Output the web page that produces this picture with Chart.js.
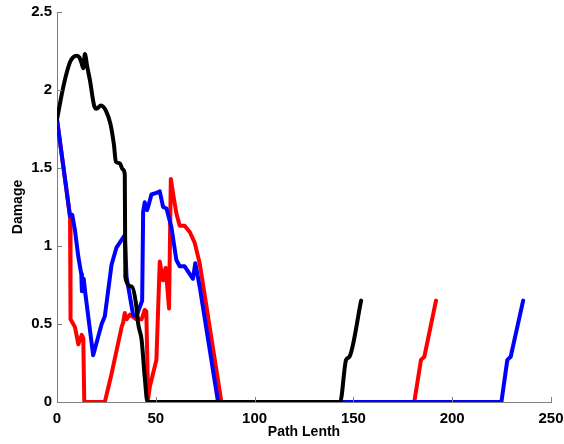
<!DOCTYPE html>
<html>
<head>
<meta charset="utf-8">
<script src="https://cdn.jsdelivr.net/npm/chart.js@4.4.1/dist/chart.umd.min.js"></script>
<style>
  html, body { margin: 0; padding: 0; background: #fff; }
  canvas { display: block; }
</style>
</head>
<body>
<canvas id="chart-area" width="564" height="444"></canvas>
<script>
	// values (path length vs damage)
	var blackX = [0, 1.9, 3.2, 4.9, 6.6, 8.2, 10, 11.3, 12.5, 13.3, 14.1, 15.3, 16.7, 18.8, 20, 22.2, 25, 27.1, 28.8, 29.8, 31.8, 33.3, 34.3, 34.6, 37.7, 40.2, 41.1, 42.8, 44.4, 45.8, 143.3, 146.3, 148, 153.9];
	var blackY = [1.81, 1.94, 2.02, 2.11, 2.18, 2.21, 2.22, 2.21, 2.17, 2.14, 2.23, 2.15, 2.06, 1.90, 1.88, 1.90, 1.86, 1.78, 1.65, 1.54, 1.53, 1.49, 1.46, 0.80, 0.74, 0.61, 0.50, 0.40, 0.16, 0, 0, 0.27, 0.29, 0.65];

	var blueX = [0, 6.6, 7.7, 9.1, 10.8, 12.3, 12.6, 13.5, 14.3, 18.3, 22.6, 24.2, 27.6, 30.1, 34.3, 35.2, 38.5, 40.2, 43.1, 43.6, 44.4, 45.6, 46.1, 47.8, 50.3, 52, 53.7, 55.4, 57.9, 60.4, 62.1, 64.6, 67.2, 68.8, 70, 72.2, 81.5, 224.9, 227.9, 229.6, 235.9];
	var blueY = [1.81, 1.19, 1.20, 1.10, 0.93, 0.82, 0.71, 0.79, 0.70, 0.30, 0.50, 0.55, 0.88, 0.99, 1.07, 0.80, 0.56, 0.55, 0.65, 1.22, 1.28, 1.23, 1.25, 1.33, 1.34, 1.35, 1.25, 1.24, 1.12, 0.91, 0.87, 0.87, 0.82, 0.79, 0.89, 0.74, 0, 0, 0.27, 0.29, 0.65];

	var redX = [0, 6.6, 6.7, 7.0, 9.1, 10.8, 12.5, 13.3, 13.8, 24.2, 27.6, 32.7, 33.5, 34.3, 35.2, 36.9, 40.2, 42.8, 44.4, 45.2, 46.1, 47, 50.3, 52, 53.7, 55, 56.7, 57.6, 58.7, 60.4, 62.1, 64.6, 67.2, 69.7, 72.2, 83.2, 180.8, 184.2, 185.9, 191.8];
	var redY = [1.81, 1.19, 1.10, 0.53, 0.48, 0.37, 0.43, 0.41, 0, 0, 0.18, 0.48, 0.51, 0.57, 0.53, 0.56, 0.53, 0.53, 0.59, 0.58, 0.02, 0.10, 0.27, 0.90, 0.78, 0.86, 0.60, 1.43, 1.34, 1.21, 1.13, 1.13, 1.09, 1.02, 0.89, 0, 0, 0.27, 0.29, 0.65];

	var xTicks = [0, 50, 100, 150, 200, 250];
	var yTicks = [0, 0.5, 1, 1.5, 2, 2.5];

	function points(xs, ys) {
		return xs.map(function(x, i) { return { x: x, y: ys[i] }; });
	}

	var FONT = "'Liberation Sans', Arial, sans-serif";

	// matlab style ticks pointing into the plot
	var innerTicks = {
		id: 'innerTicks',
		afterDatasetsDraw: function(chart) {
			var ctx = chart.ctx, a = chart.chartArea;
			var xs = chart.scales.x, ys = chart.scales.y;
			ctx.save();
			ctx.strokeStyle = '#808080';
			ctx.lineWidth = 1;
			ctx.beginPath();
			xTicks.forEach(function(v) {
				var px = Math.round(xs.getPixelForValue(v)) + 0.5;
				ctx.moveTo(px, a.bottom);
				ctx.lineTo(px, a.bottom - 5);
			});
			yTicks.forEach(function(v) {
				var py = Math.round(ys.getPixelForValue(v)) + 0.5;
				ctx.moveTo(a.left, py);
				ctx.lineTo(a.left + 5, py);
			});
			ctx.stroke();
			ctx.restore();
		}
	};

	var config = {
		type: 'line',
		data: {
			datasets: [{
				data: points(blackX, blackY),
				borderColor: '#000000',
				borderWidth: 4,
				cubicInterpolationMode: 'monotone'
			}, {
				data: points(blueX, blueY),
				borderColor: '#0000ff',
				borderWidth: 4
			}, {
				data: points(redX, redY),
				borderColor: '#ff0000',
				borderWidth: 4
			}]
		},
		options: {
			responsive: false,
			animation: false,
			events: [],
			elements: {
				point: { radius: 0 },
				line: { tension: 0, borderJoinStyle: 'round', borderCapStyle: 'round' }
			},
			layout: { padding: { top: 12, right: 13, bottom: 0, left: 0 } },
			plugins: {
				legend: { display: false },
				tooltip: { enabled: false }
			},
			scales: {
				x: {
					type: 'linear',
					min: 0,
					max: 250,
					grid: { display: false, drawTicks: false },
					border: { display: true, color: '#808080', width: 1 },
					ticks: {
						stepSize: 50,
						padding: 8,
						color: '#000',
						font: { family: FONT, size: 15, weight: 'bold' }
					},
					title: {
						display: true,
						text: 'Path Lenth',
						color: '#000',
						padding: { top: 0, bottom: 3 },
						font: { family: FONT, size: 14, weight: 'bold' }
					},
					afterFit: function(scale) {
						scale.height = 42;
						scale.paddingRight = 0;
						scale.paddingLeft = 0;
					}
				},
				y: {
					min: 0,
					max: 2.5,
					grid: { display: false, drawTicks: false },
					border: { display: true, color: '#808080', width: 1 },
					ticks: {
						stepSize: 0.5,
						padding: 5,
						color: '#000',
						font: { family: FONT, size: 15, weight: 'bold' },
						callback: function(v) { return String(v); }
					},
					title: {
						display: true,
						text: 'Damage',
						color: '#000',
						padding: { top: 10, bottom: 0 },
						font: { family: FONT, size: 14, weight: 'bold' }
					},
					afterFit: function(scale) {
						scale.width = 57;
						scale.paddingTop = 0;
						scale.paddingBottom = 0;
					}
				}
			}
		},
		plugins: [innerTicks]
	};

	var ctx = document.getElementById("chart-area").getContext("2d");
	window.myChart = new Chart(ctx, config);
</script>
</body>
</html>
